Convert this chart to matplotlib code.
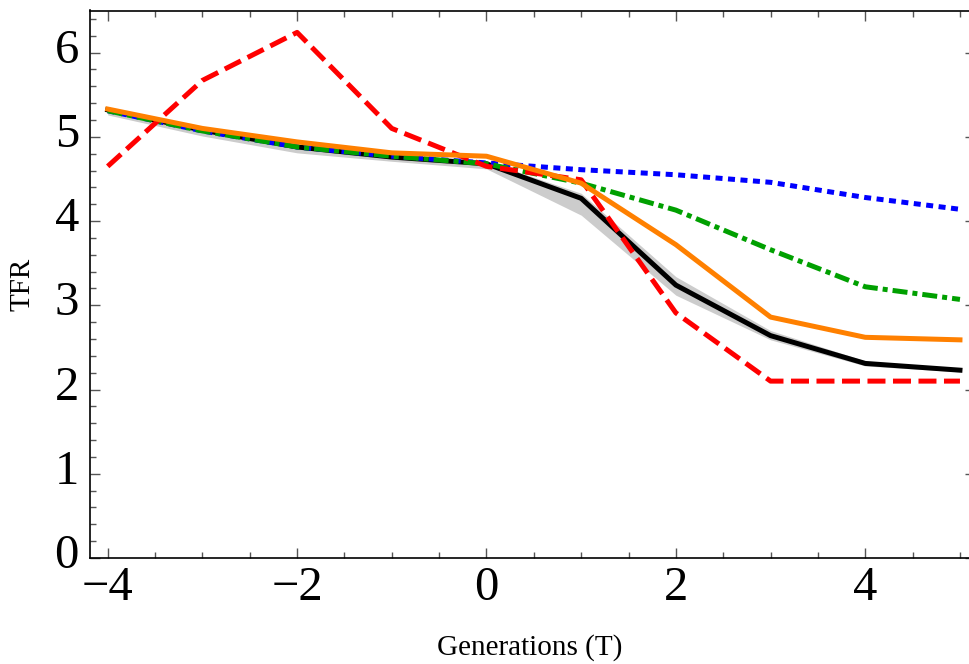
import matplotlib
matplotlib.use("Agg")
import matplotlib.pyplot as plt
from matplotlib.ticker import MultipleLocator
from matplotlib.transforms import ScaledTranslation

# Data
generations = [-4, -3, -2, -1, 0, 1, 2, 3, 4, 5]
tfr_black = [5.32, 5.08, 4.88, 4.76, 4.68, 4.27, 3.24, 2.64, 2.31, 2.23]
band_lower = [5.26, 5.01, 4.81, 4.71, 4.62, 4.07, 3.12, 2.59, 2.28, 2.21]
band_upper = [5.34, 5.10, 4.91, 4.79, 4.71, 4.33, 3.34, 2.70, 2.34, 2.25]
tfr_blue = [5.31, 5.07, 4.88, 4.77, 4.69, 4.61, 4.55, 4.46, 4.28, 4.14]
tfr_green = [5.31, 5.07, 4.88, 4.77, 4.68, 4.45, 4.13, 3.66, 3.22, 3.07]
tfr_red = [4.65, 5.67, 6.24, 5.10, 4.65, 4.49, 2.91, 2.10, 2.10, 2.10]
tfr_orange = [5.33, 5.10, 4.94, 4.81, 4.77, 4.45, 3.72, 2.86, 2.62, 2.59]
x_tick_values = [-4, -2, 0, 2, 4]
x_tick_labels = ['\u22124', '\u22122', '0', '2', '4']

plt.rcParams['font.family'] = ['Liberation Serif', 'DejaVu Serif']

fig = plt.figure(figsize=(9.70, 6.64), dpi=100)
ax = fig.add_axes([90/970, (664-558)/664, (970-90)/970, (558-10.5)/664])

lw = 3.6
ax.fill_between(generations, band_lower, band_upper, color='#cccccc', lw=0, zorder=1)
ax.plot(generations, tfr_black, color='black', lw=lw, zorder=2)
ax.plot(generations, tfr_blue, color='#0000ff', lw=lw, dashes=(1.4, 1.1), zorder=3)
ax.plot(generations, tfr_green, color='#00a000', lw=lw, dashes=(3.0, 1.0, 1.0, 1.0), zorder=4)
ax.plot(generations, tfr_red, color='#ff0000', lw=lw, dashes=(3.6, 1.5), zorder=5)
ax.plot(generations, tfr_orange, color='#ff8000', lw=lw, zorder=6)

ax.set_xlim(-4.187, 5.106)
ax.set_ylim(0, 6.50)

ax.xaxis.set_minor_locator(MultipleLocator(0.5))
ax.yaxis.set_major_locator(MultipleLocator(1))
ax.yaxis.set_minor_locator(MultipleLocator(0.2))
ax.set_xticks(x_tick_values)
ax.set_xticklabels(x_tick_labels)

for s in ['left', 'bottom', 'top']:
    ax.spines[s].set_linewidth(1.2)
    ax.spines[s].set_color('black')
ax.spines['right'].set_visible(False)

ax.tick_params(which='both', direction='in', color='#555555', width=1.0,
               top=True, right=False, labelsize=35)
ax.tick_params(which='major', length=7.5)
ax.tick_params(which='minor', length=4.3)
ax.tick_params(axis='x', which='major', pad=6)
ax.tick_params(axis='y', which='major', pad=8)

# right-side short major ticks only
sec = ax.secondary_yaxis('right')
sec.yaxis.set_major_locator(MultipleLocator(1))
sec.tick_params(direction='in', length=3.5, width=1.0, color='#555555', labelright=False)
sec.spines['right'].set_visible(False)

# nudge y tick labels slightly upward like the reference
offset = ScaledTranslation(0, 5/72, fig.dpi_scale_trans)
for lab in ax.get_yticklabels():
    lab.set_transform(lab.get_transform() + offset)

ax.set_xlabel('Generations (T)', fontsize=21, labelpad=17)
ax.set_ylabel('TFR', fontsize=21, labelpad=14)

fig.savefig('out.png', dpi=100)
